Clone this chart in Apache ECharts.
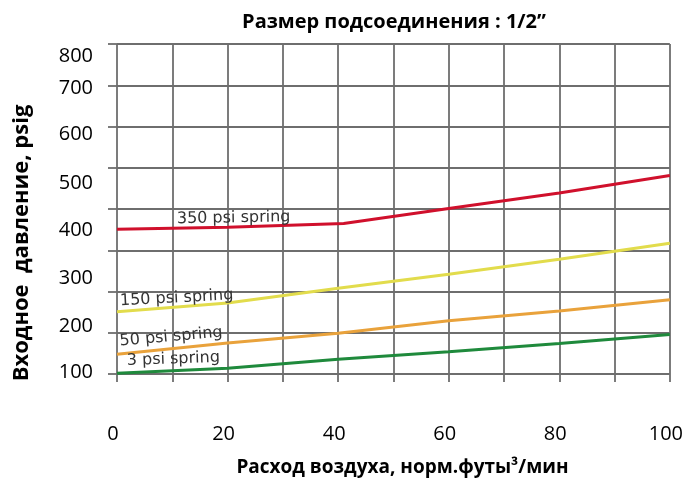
<!DOCTYPE html>
<html><head><meta charset="utf-8">
<script src="https://cdn.jsdelivr.net/npm/echarts@6/dist/echarts.min.js"></script>
<style>html,body{margin:0;padding:0;background:#fff}#c{width:686px;height:484px}</style>
</head><body><div id="c"></div>
<script>
const titleText = 'Размер подсоединения : 1/2”';
const xName = 'Расход воздуха, норм.футы³/мин';
const yName = 'Входное  давление, psig';
const xTickLabels = [0, 20, 40, 60, 80, 100];
const yTickLabels = ['100', '200', '300', '400', '500', '600', '700', '800'];
const yTickLabelAt = [5, 116, 233, 349, 463, 582, 693, 770];
const seriesNames = ['3 psi spring', '50 psi spring', '150 psi spring', '350 psi spring'];
const spring3 = [[0, 2], [20, 14], [40, 36], [60, 54], [80, 74], [100, 96]];
const spring50 = [[0, 48], [20, 75], [40, 99], [60, 129], [80, 153], [100, 180]];
const spring150 = [[0, 151], [20, 172], [40, 208], [60, 242], [80, 278], [100, 317]];
const spring350 = [[0, 351], [20, 356], [41, 365], [60, 401], [80, 439], [100, 481]];
const springLabelAt = [[10.2, 36], [9.8, 90], [10.8, 184], [21.1, 378]];
const springLabelRotate = [2, 5, 3, 1];

const colors = ['#1f8a3c', '#e9a23b', '#e2dc4c', '#d0102c'];
const datasets = [spring3, spring50, spring150, spring350];

const chart = echarts.init(document.getElementById('c'), null, {renderer: 'canvas'});
const gridColor = '#6e6e6e';
chart.setOption({
  animation: false,
  backgroundColor: '#fff',
  title: {
    text: titleText, left: 389, top: 7, textAlign: 'center',
    textStyle: {fontFamily: 'Open Sans', fontWeight: 'bold', fontSize: 20, color: '#000'}
  },
  grid: {left: 117, right: 15, top: 44, bottom: 110},
  xAxis: {
    type: 'value', min: 0, max: 100, interval: 10,
    name: xName, nameLocation: 'middle', nameGap: 84,
    nameTextStyle: {fontFamily: 'Open Sans', fontWeight: 'bold', fontSize: 19, color: '#000', padding: [0, 0, 0, 18]},
    axisLine: {show: false},
    axisTick: {show: true, length: 8, lineStyle: {color: gridColor, width: 1.8}},
    splitLine: {show: true, lineStyle: {color: gridColor, width: 1.8}},
    axisLabel: {
      customValues: xTickLabels, margin: 50, padding: [0, 8, 0, 0],
      fontFamily: 'Open Sans', fontSize: 20, color: '#000'
    }
  },
  yAxis: {
    type: 'value', min: 0, max: 800, interval: 100,
    name: yName, nameLocation: 'middle', nameGap: 84,
    nameTextStyle: {fontFamily: 'Open Sans', fontWeight: 'bold', fontSize: 22, color: '#000', padding: [0, 68, 0, 0]},
    axisLine: {show: false},
    axisTick: {show: true, length: 9, lineStyle: {color: gridColor, width: 1.8}},
    splitLine: {show: true, lineStyle: {color: gridColor, width: 1.8}},
    axisLabel: {
      customValues: yTickLabelAt, margin: 24,
      formatter: function (v) { const i = yTickLabelAt.indexOf(v); return i >= 0 ? yTickLabels[i] : ''; },
      fontFamily: 'Open Sans', fontSize: 20, color: '#000'
    }
  },
  series: datasets.map(function (d, i) {
    return {
      name: seriesNames[i], type: 'line', data: d, showSymbol: false, symbol: 'none',
      lineStyle: {color: colors[i], width: 3}, z: 3,
      markPoint: {
        symbol: 'circle', symbolSize: 0, silent: true,
        data: [{coord: springLabelAt[i], name: seriesNames[i]}],
        label: {
          show: true, position: 'inside', formatter: seriesNames[i], rotate: springLabelRotate[i],
          fontFamily: 'DejaVu Sans', fontSize: 16, color: '#333'
        }
      }
    };
  })
});
</script></body></html>
